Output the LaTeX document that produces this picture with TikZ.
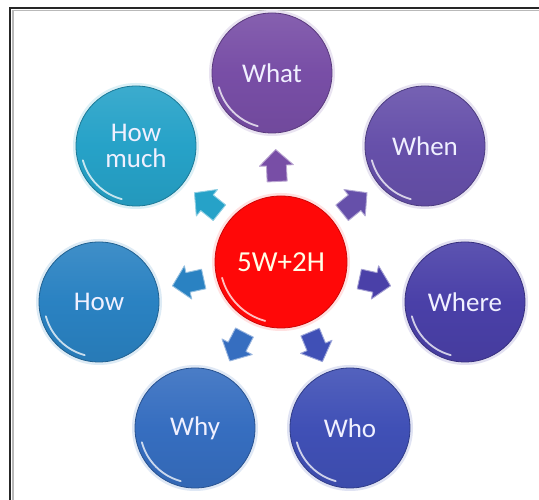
\documentclass[tikz,border=0pt]{standalone}
\usepackage{fontspec}
\setmainfont{Carlito}
\usetikzlibrary{calc}
\definecolor{cWhat}{RGB}{120,78,166}
\definecolor{cWhen}{RGB}{102,80,170}
\definecolor{cWhere}{RGB}{74,64,168}
\definecolor{cWho}{RGB}{64,80,182}
\definecolor{cWhy}{RGB}{54,110,192}
\definecolor{cHow}{RGB}{42,130,194}
\definecolor{cHowMuch}{RGB}{38,162,200}
\definecolor{cRed}{RGB}{255,8,8}
\begin{document}
\begin{tikzpicture}[x=1pt,y=1pt,
  ball/.style={circle, inner sep=0pt, minimum size=120pt, text=white!94!blue,
    top color=#1!90!white, bottom color=#1!94!black, middle color=#1,
    draw=#1!75!black, line width=0.8pt,
    font=\fontsize{27}{29}\selectfont, align=center},
  hub/.style={circle, inner sep=0pt, minimum size=132pt, text=white!90!yellow,
    fill=cRed, draw=cRed!80!black, line width=0.8pt,
    font=\fontsize{29}{31}\selectfont},
  blockarrow/.style={fill=#1, draw=#1!50!white, line width=0.9pt, line join=round},
  gloss/.style={white, line width=1.8pt, opacity=0.75, line cap=round}]
\useasboundingbox (0,0) rectangle (539,500);
\fill[white] (0,0) rectangle (539,500);
% frame (top and left edges only)
\draw[gray!55, line width=1.5pt] (13,0) -- (13,489.5) -- (539,489.5);
\draw[black!85, line width=2.5pt] (10,0) -- (10,492) -- (539,492);

% soft halos
\foreach \x/\y/\c in {272/427/cWhat,425/354/cWhen,465/198/cWhere,350/72/cWho,195/72/cWhy,99/198/cHow,136/354/cHowMuch}{
  \fill[\c!16!white] (\x,\y) circle[radius=63];
}
\fill[cRed!12!white] (281,238) circle[radius=69];

% nodes
\node[hub] (c) at (281,238) {5W+2H};
\node[ball=cWhat] (what) at (272,427) {What};
\node[ball=cWhen] (when) at (425,354) {When};
\node[ball=cWhere] (where) at (465,198) {Where};
\node[ball=cWho] (who) at (350,72) {Who};
\node[ball=cWhy] (why) at (195,72) {Why};
\node[ball=cHow] (how) at (99,198) {How};
\node[ball=cHowMuch] (howmuch) at (136,354) {How\\[-3pt]much};

% glossy reflections
\foreach \o in {what,when,where,who,why,how,howmuch}{
  \draw[gloss] ([shift={(195:55)}]\o.center) arc[start angle=195, end angle=255, radius=55];
}
\draw[gloss] ([shift={(195:61)}]c.center) arc[start angle=195, end angle=255, radius=61];

% block arrows from the hub towards each circle
\foreach \o/\c in {what/cWhat,when/cWhen,where/cWhere,who/cWho,why/cWhy,how/cHow,howmuch/cHowMuch}{
  \path let \p1=($(\o.center)-(c.center)$), \n1={atan2(\y1,\x1)} in \pgfextra{\xdef\ang{\n1}};
  \coordinate (a\o) at ($(c.center)!0.5!(\o.center)$);
  \filldraw[blockarrow=\c, shift={(a\o)}, rotate=\ang]
    (-14,-10) -- (2,-10) -- (2,-17) -- (18,0) -- (2,17) -- (2,10) -- (-14,10) -- cycle;
}
\end{tikzpicture}
\end{document}
